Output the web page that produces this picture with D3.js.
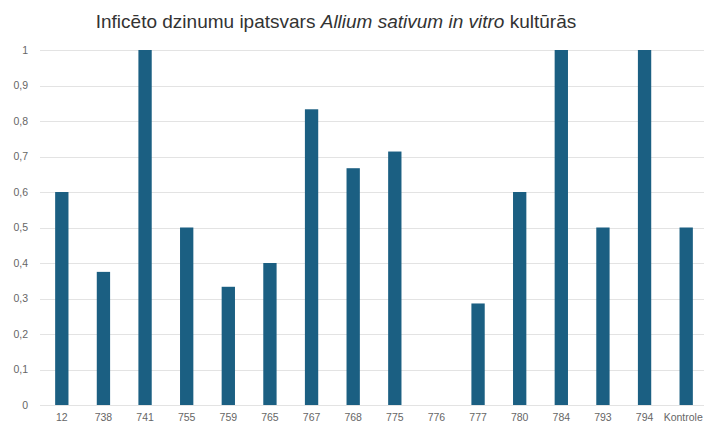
<!DOCTYPE html>
<html>
<head>
<meta charset="utf-8">
<script src="https://cdn.jsdelivr.net/npm/d3@7"></script>
<style>
  html, body { margin: 0; padding: 0; background: #fff; overflow: hidden; }
  svg { display: block; font-family: "Liberation Sans", Arial, sans-serif; }
</style>
</head>
<body>
<svg id="chart" width="704" height="427"></svg>
<script>
// Infected shoot share per line
const categories = ["12", "738", "741", "755", "759", "765", "767", "768", "775", "776", "777", "780", "784", "793", "794", "Kontrole"];
const values = [0.6, 0.375, 1, 0.5, 0.333, 0.4, 0.833, 0.667, 0.714, 0, 0.286, 0.6, 1, 0.5, 1, 0.5];
const yTicks = [0, 0.1, 0.2, 0.3, 0.4, 0.5, 0.6, 0.7, 0.8, 0.9, 1];

const svg = d3.select("#chart");
const W = 704, H = 427;
const m = { left: 41, right: -3, top: 50, bottom: 22 };

const x = d3.scaleBand().domain(categories)
  .range([m.left, W - m.right]).paddingInner(0.68).paddingOuter(0.34);
const y = d3.scaleLinear().domain([0, 1]).range([H - m.bottom, m.top]);

const fmt = v => String(+v.toFixed(1)).replace(".", ",");

// grid lines
svg.append("g").selectAll("line").data(yTicks).join("line")
  .attr("x1", 40).attr("x2", W)
  .attr("y1", d => Math.round(y(d)) + 0.5).attr("y2", d => Math.round(y(d)) + 0.5)
  .attr("stroke", "#e3e3e3").attr("stroke-width", 1);

// y axis labels
const yAxis = d3.axisLeft(y).tickValues(yTicks).tickFormat(fmt).tickSize(0).tickPadding(0);
const gy = svg.append("g").attr("transform", "translate(28,0)").call(yAxis);
gy.select(".domain").remove();
gy.selectAll("text").attr("fill", "#666").style("font-size", "10.5px");

// x axis labels
const xAxis = d3.axisBottom(x).tickSize(0).tickPadding(0);
const gx = svg.append("g").attr("transform", `translate(0,${H - m.bottom + 9})`).call(xAxis);
gx.select(".domain").remove();
gx.selectAll("text").attr("fill", "#666").style("font-size", "10.5px");
// keep the last label inside the right edge
gx.selectAll("text").filter(d => d === "Kontrole").attr("dx", "-3");

// bars
svg.append("g").selectAll("rect").data(categories).join("rect")
  .attr("x", d => x(d))
  .attr("width", x.bandwidth())
  .attr("y", (d, i) => y(values[i]))
  .attr("height", (d, i) => y(0) - y(values[i]))
  .attr("fill", "#1b5f82");

// title
const title = svg.append("text")
  .attr("x", 336).attr("y", 28)
  .attr("text-anchor", "middle")
  .attr("fill", "#333")
  .style("font-size", "19px");
title.append("tspan").text("Inficēto dzinumu ipatsvars ");
title.append("tspan").style("font-style", "italic").text("Allium sativum in vitro");
title.append("tspan").text(" kultūrās");
</script>
</body>
</html>
